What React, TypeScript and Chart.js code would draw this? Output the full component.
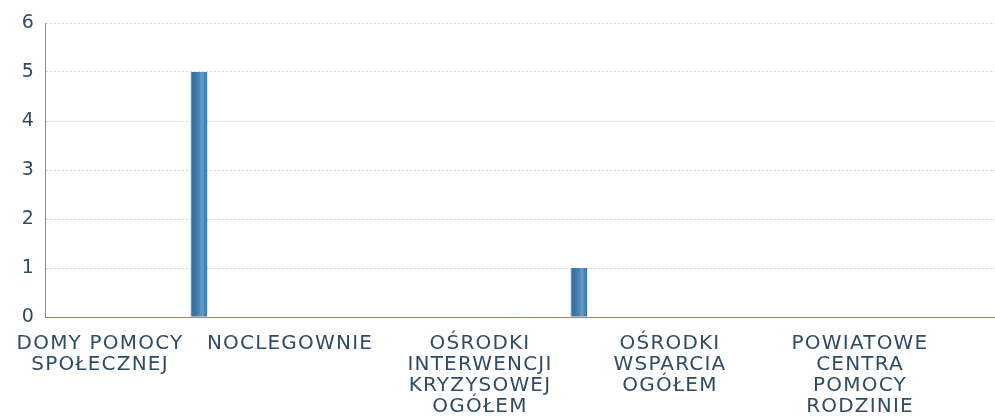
import React, { useEffect, useRef } from "react";
import { Chart, registerables } from "chart.js";

Chart.register(...registerables);

const categories: string[][] = [
  ["DOMY POMOCY", "SPOŁECZNEJ"],
  ["NOCLEGOWNIE"],
  ["OŚRODKI", "INTERWENCJI", "KRYZYSOWEJ", "OGÓŁEM"],
  ["OŚRODKI", "WSPARCIA", "OGÓŁEM"],
  ["POWIATOWE", "CENTRA", "POMOCY", "RODZINIE"],
];

const seriesOne: number[] = [0, 0, 0, 0, 0];
const seriesTwo: number[] = [0, 0, 0, 0, 0];
const seriesThree: number[] = [5, 0, 1, 0, 0];

const yTicks: number[] = [0, 1, 2, 3, 4, 5, 6];

const FONT = "'DejaVu Sans', sans-serif";
const TEXT = "#2f4b66";

const spacing = {
  id: "spacing",
  beforeLayout(chart: any) {
    (chart.ctx as any).letterSpacing = "1.2px";
  },
  beforeDraw(chart: any) {
    (chart.ctx as any).letterSpacing = "1.2px";
  },
};

const barGradient = {
  id: "barGradient",
  beforeDatasetsDraw(chart: any) {
    const ctx = chart.ctx as CanvasRenderingContext2D;
    chart.data.datasets.forEach((_ds: any, di: number) => {
      const meta = chart.getDatasetMeta(di);
      meta.data.forEach((el: any) => {
        const { x, width } = el.getProps(["x", "width"], true);
        if (!isFinite(x) || !isFinite(width)) return;
        const l = x - width / 2;
        const g = ctx.createLinearGradient(l, 0, l + width, 0);
        g.addColorStop(0, "#80b4da");
        g.addColorStop(0.12, "#336f9f");
        g.addColorStop(0.45, "#4281b1");
        g.addColorStop(0.7, "#679dc8");
        g.addColorStop(0.85, "#4985b5");
        g.addColorStop(1, "#3874a5");
        el.options = { ...el.options, backgroundColor: g };
      });
    });
  },
};

export default function App() {
  const ref = useRef<HTMLCanvasElement | null>(null);

  useEffect(() => {
    document.body.style.margin = "0";
    document.body.style.background = "#ffffff";
    if (!ref.current) return;
    const common = {
      backgroundColor: "#4a86b5",
      borderWidth: 0,
      categoryPercentage: 0.93,
      barPercentage: 0.28,
    };
    const chart = new Chart(ref.current, {
      type: "bar",
      data: {
        labels: categories,
        datasets: [
          { label: "Seria 1", data: seriesOne, ...common },
          { label: "Seria 2", data: seriesTwo, ...common },
          { label: "Seria 3", data: seriesThree, ...common },
        ],
      },
      options: {
        responsive: false,
        animation: false,
        layout: { padding: { top: 23, left: 0, right: 0, bottom: 0 } },
        plugins: {
          legend: { display: false },
          tooltip: { enabled: false },
        },
        scales: {
          x: {
            afterFit: (scale: any) => {
              scale.height = 102;
            },
            grid: { display: false },
            border: { display: true, color: "#5f97c4", width: 1 },
            ticks: {
              color: TEXT,
              font: { family: FONT, size: 20, lineHeight: 1.05 },
              padding: 8,
              labelOffset: -40,
              maxRotation: 0,
              minRotation: 0,
              autoSkip: false,
            },
          },
          y: {
            min: 0,
            max: 6,
            afterFit: (scale: any) => {
              scale.width = 45;
            },
            afterBuildTicks: (scale: any) => {
              scale.ticks = yTicks.map((v) => ({ value: v }));
            },
            grid: {
              drawTicks: false,
              color: (c: any) => (c.tick && c.tick.value === 0 ? "#5f97c4" : "#c9dcec"),
              lineWidth: 1,
            },
            border: { display: true, color: "#5f97c4", width: 1, dash: [2, 2] },
            ticks: {
              color: TEXT,
              font: { family: FONT, size: 19 },
              padding: 10,
            },
          },
        },
      },
      plugins: [spacing, barGradient],
    });
    return () => chart.destroy();
  }, []);

  return (
    <div style={{ width: 995, height: 419 }}>
      <canvas ref={ref} width={995} height={419} />
    </div>
  );
}
